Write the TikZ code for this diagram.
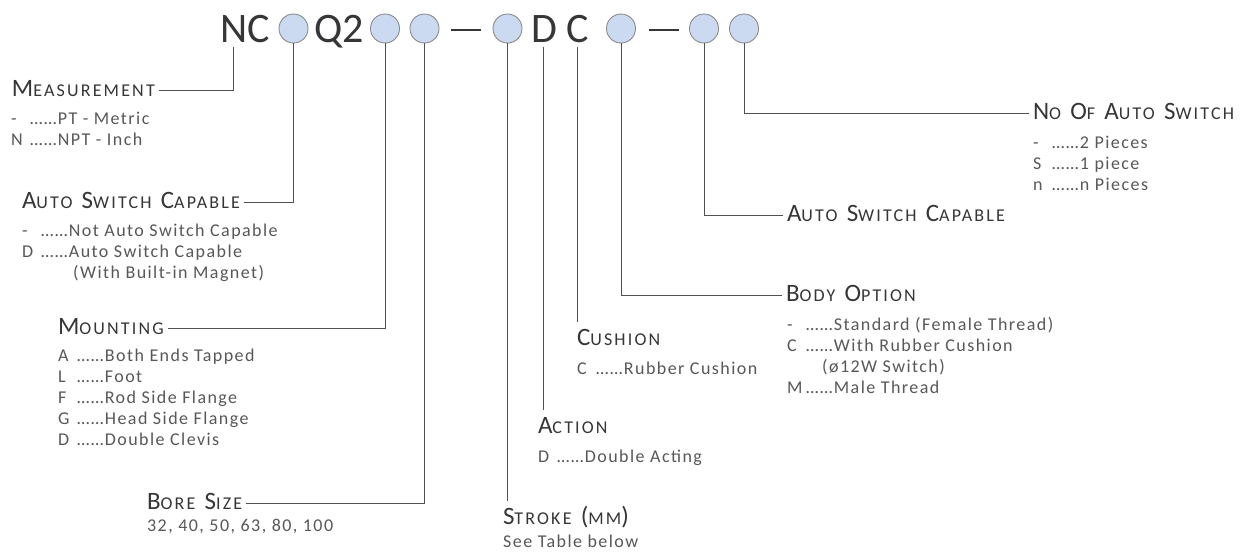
\documentclass[tikz,border=0pt]{standalone}
\usepackage{fontspec}
\setmainfont{Carlito}
\newfontfamily\hfont[LetterSpace=12]{Carlito}
\newfontfamily\ifont[LetterSpace=8]{Carlito}
\definecolor{txt}{HTML}{363636}
\definecolor{itm}{HTML}{585858}
\definecolor{ln}{HTML}{505050}
\definecolor{cfill}{HTML}{CBDAF1}
\definecolor{cdraw}{HTML}{8C8C8C}
\newcommand\hbig[1]{{\fontsize{25}{25}\selectfont #1}}
\newcommand\hsml[1]{{\fontsize{18}{18}\selectfont #1}}
\newcommand\hgap{\hspace*{3pt}}
\newcommand\kk[1]{\makebox[19pt][l]{#1}}
\newcommand\fl{\rule{0pt}{15pt}}
\begin{document}
\begin{tikzpicture}[x=1pt,y=-1pt,
  toptext/.style={font=\fontsize{42}{42}\selectfont, text=txt, inner sep=0pt, outer xsep=0pt, outer ysep=5pt, anchor=base west},
  dotc/.style={circle, draw=cdraw, fill=cfill, line width=0.9pt, minimum size=29pt, inner sep=0pt},
  head/.style={font=\hfont\fontsize{18}{18}\selectfont, text=txt, inner sep=0pt, outer xsep=4pt, outer ysep=0pt, text height=12pt, text depth=0pt, anchor=west},
  items/.style={font=\ifont\fontsize{18}{21}\selectfont, text=itm, inner sep=0pt, align=left, anchor=north west},
  conn/.style={draw=ln, line width=1pt},
  dashln/.style={draw=txt, line width=2.6pt}]
\fill[white] (0,0) rectangle (1248,552);
\useasboundingbox (0,0) rectangle (1248,552);

% top row
\node[toptext] (tN) at (220,42) {N};
\node[toptext] (tC) at (tN.base east) {C};
\node[toptext] (tQ) at (314,42) {Q2};
\node[toptext] (tD) at (531,42) {D};
\node[toptext] (tC2) at (566,42) {C};
\node[dotc] (c1) at (293.5,28.5) {};
\node[dotc] (c2) at (385,28.5) {};
\node[dotc] (c3) at (424.5,28.5) {};
\node[dotc] (c4) at (507.5,28.5) {};
\node[dotc] (c5) at (621,28.5) {};
\node[dotc] (c6) at (704,28.5) {};
\node[dotc] (c7) at (744,28.5) {};
\draw[dashln] (451,30) -- (481,30);
\draw[dashln] (649,30) -- (679,30);

% headings
\node[head] (hMeas) at (8,90) {\hbig{M}\hsml{EASUREMENT}};
\node[head] (hAuto1) at (18,202) {\hbig{A}\hsml{UTO }\hgap\hbig{S}\hsml{WITCH }\hgap\hbig{C}\hsml{APABLE}};
\node[head] (hMount) at (54,328) {\hbig{M}\hsml{OUNTING}};
\node[head] (hBore) at (143,503) {\hbig{B}\hsml{ORE }\hgap\hbig{S}\hsml{IZE}};
\node[head] (hStroke) at (499,518) {\hbig{S}\hsml{TROKE }\hgap\hbig{(}\hsml{MM}\hbig{)}};
\node[head] (hAction) at (534,427) {\hbig{A}\hsml{CTION}};
\node[head] (hCush) at (573,339) {\hbig{C}\hsml{USHION}};
\node[head] (hBody) at (782,295) {\hbig{B}\hsml{ODY }\hgap\hbig{O}\hsml{PTION}};
\node[head] (hAuto2) at (783,215) {\hbig{A}\hsml{UTO }\hgap\hbig{S}\hsml{WITCH }\hgap\hbig{C}\hsml{APABLE}};
\node[head] (hNoOf) at (1029,113) {\hbig{N}\hsml{O }\hgap\hbig{O}\hsml{F }\hgap\hbig{A}\hsml{UTO }\hgap\hbig{S}\hsml{WITCH}};

% items
\node[items] (iMeas) at (11,108.8) {\fl\kk{-}……PT - Metric\\\kk{N}……NPT - Inch};
\node[items] (iAuto1) at (22,220.8) {\fl\kk{-}……Not Auto Switch Capable\\\kk{D}……Auto Switch Capable\\\hspace*{51pt}(With Built-in Magnet)};
\node[items] (iMount) at (58,345.8) {\fl\kk{A}……Both Ends Tapped\\\kk{L}……Foot\\\kk{F}……Rod Side Flange\\\kk{G}……Head Side Flange\\\kk{D}……Double Clevis};
\node[items] (iBore) at (147,515.8) {\fl 32, 40, 50, 63, 80, 100};
\node[items] (iStroke) at (503,531.8) {\fl See Table below};
\node[items] (iAction) at (538,446.8) {\fl\kk{D}……Double Acting};
\node[items] (iCush) at (577,358.8) {\fl\kk{C}……Rubber Cushion};
\node[items] (iBody) at (787,314.8) {\fl\kk{-}……Standard (Female Thread)\\\kk{C}……With Rubber Cushion\\\hspace*{35pt}(ø12W Switch)\\\kk{M}……Male Thread};
\node[items] (iNoOf) at (1033,132.8) {\fl\kk{-}……2 Pieces\\\kk{S}……1 piece\\\kk{n}……n Pieces};

% connectors
\draw[conn] (tN.south) |- (hMeas.east);
\draw[conn] (c1.south) |- (hAuto1.east);
\draw[conn] (c2.south) |- (hMount.east);
\draw[conn] (c3.south) |- (hBore.east);
\draw[conn] (c4.south) -- ([yshift=11pt]c4.south |- hStroke.north);
\draw[conn] (tD.south) -- ([yshift=11pt]tD.south |- hAction.north);
\draw[conn] (tC2.south) -- ([yshift=11pt]tC2.south |- hCush.north);
\draw[conn] (c5.south) |- (hBody.west);
\draw[conn] (c6.south) |- (hAuto2.west);
\draw[conn] (c7.south) |- (hNoOf.west);
\end{tikzpicture}
\end{document}
